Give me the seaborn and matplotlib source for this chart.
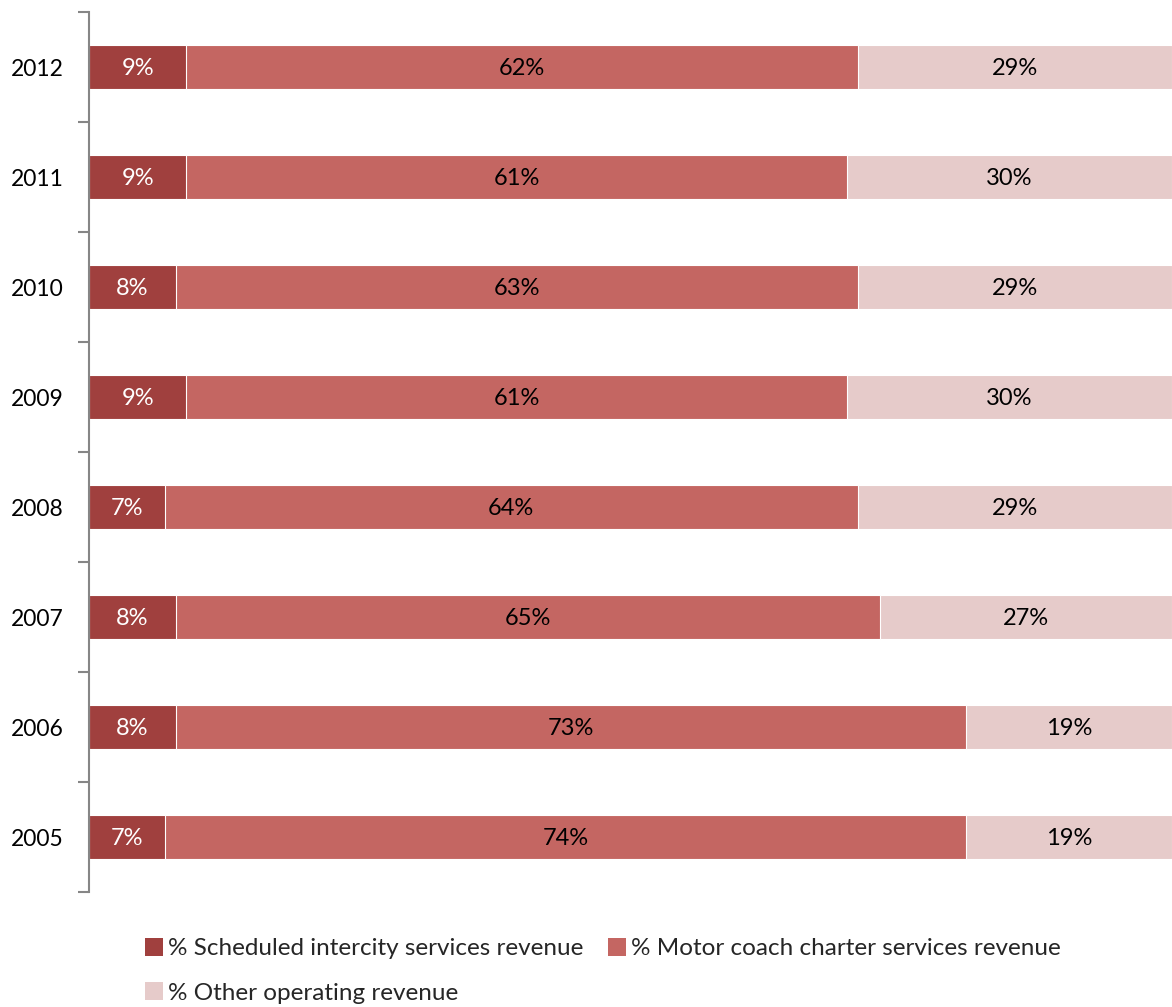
import matplotlib
matplotlib.use("Agg")
import matplotlib.pyplot as plt
import seaborn as sns
import pandas as pd
import numpy as np
from matplotlib.patches import Patch
from matplotlib.ticker import FixedLocator

years = ["2012", "2011", "2010", "2009", "2008", "2007", "2006", "2005"]
scheduled = [9, 9, 8, 9, 7, 8, 8, 7]
charter = [62, 61, 63, 61, 64, 65, 73, 74]
other = [29, 30, 29, 30, 29, 27, 19, 19]

series_names = [
    "% Scheduled intercity services revenue",
    "% Motor coach charter services revenue",
    "% Other operating revenue",
]
colors = ["#A0403E", "#C46662", "#E6CBCA"]

sns.set_theme(style="white")
plt.rcParams["font.family"] = ["Lato", "DejaVu Sans"]

df = pd.DataFrame({"year": years, "s": scheduled, "c": charter, "o": other})
df["cum1"] = df["s"]
df["cum2"] = df["s"] + df["c"]
df["cum3"] = df["s"] + df["c"] + df["o"]

fig = plt.figure(figsize=(11.72, 10.07), dpi=100)
ax = fig.add_axes([89 / 1172, 1 - 892 / 1007, 1 - 89 / 1172, (892 - 12) / 1007])

# Stacked bars drawn as overlapping cumulative layers
for col, color in zip(["cum3", "cum2", "cum1"], colors[::-1]):
    sns.barplot(data=df, x=col, y="year", order=years, orient="h", color=color,
                width=0.4, edgecolor="white", linewidth=0.8, ax=ax, saturation=1)

# Segment labels
for i, yr in enumerate(years):
    starts = [0, scheduled[i], scheduled[i] + charter[i]]
    vals = [scheduled[i], charter[i], other[i]]
    for k, (st, v) in enumerate(zip(starts, vals)):
        ax.text(st + v / 2, i + 0.01, f"{v}%", ha="center", va="center",
                fontsize=17, color="white" if k == 0 else "black")

ax.set_xlim(0, 100)
ax.set_ylim(7.5, -0.5)
ax.set_xlabel("")
ax.set_ylabel("")
ax.set_xticks([])
for side in ["top", "right", "bottom"]:
    ax.spines[side].set_visible(False)
ax.spines["left"].set_color("#868686")
ax.spines["left"].set_linewidth(1.5)

ax.tick_params(axis="y", which="major", length=0, labelsize=16.5, pad=18, labelcolor="black")
ax.yaxis.set_minor_locator(FixedLocator(np.arange(-0.5, 8.0, 1.0)))
ax.tick_params(axis="y", which="minor", length=8, width=1.5, color="#868686", left=True)

handles = [Patch(facecolor=c, edgecolor="none") for c in colors]
order = [0, 2, 1]
fig.legend([handles[i] for i in order], [series_names[i] for i in order],
           ncol=2, loc="upper left", bbox_to_anchor=(123 / 1172, 1 - 916 / 1007),
           frameon=False, fontsize=17.5, handlelength=0.75, handleheight=0.75,
           handletextpad=0.2, columnspacing=1.0, labelspacing=0.95)

fig.savefig("out.png", dpi=100)
